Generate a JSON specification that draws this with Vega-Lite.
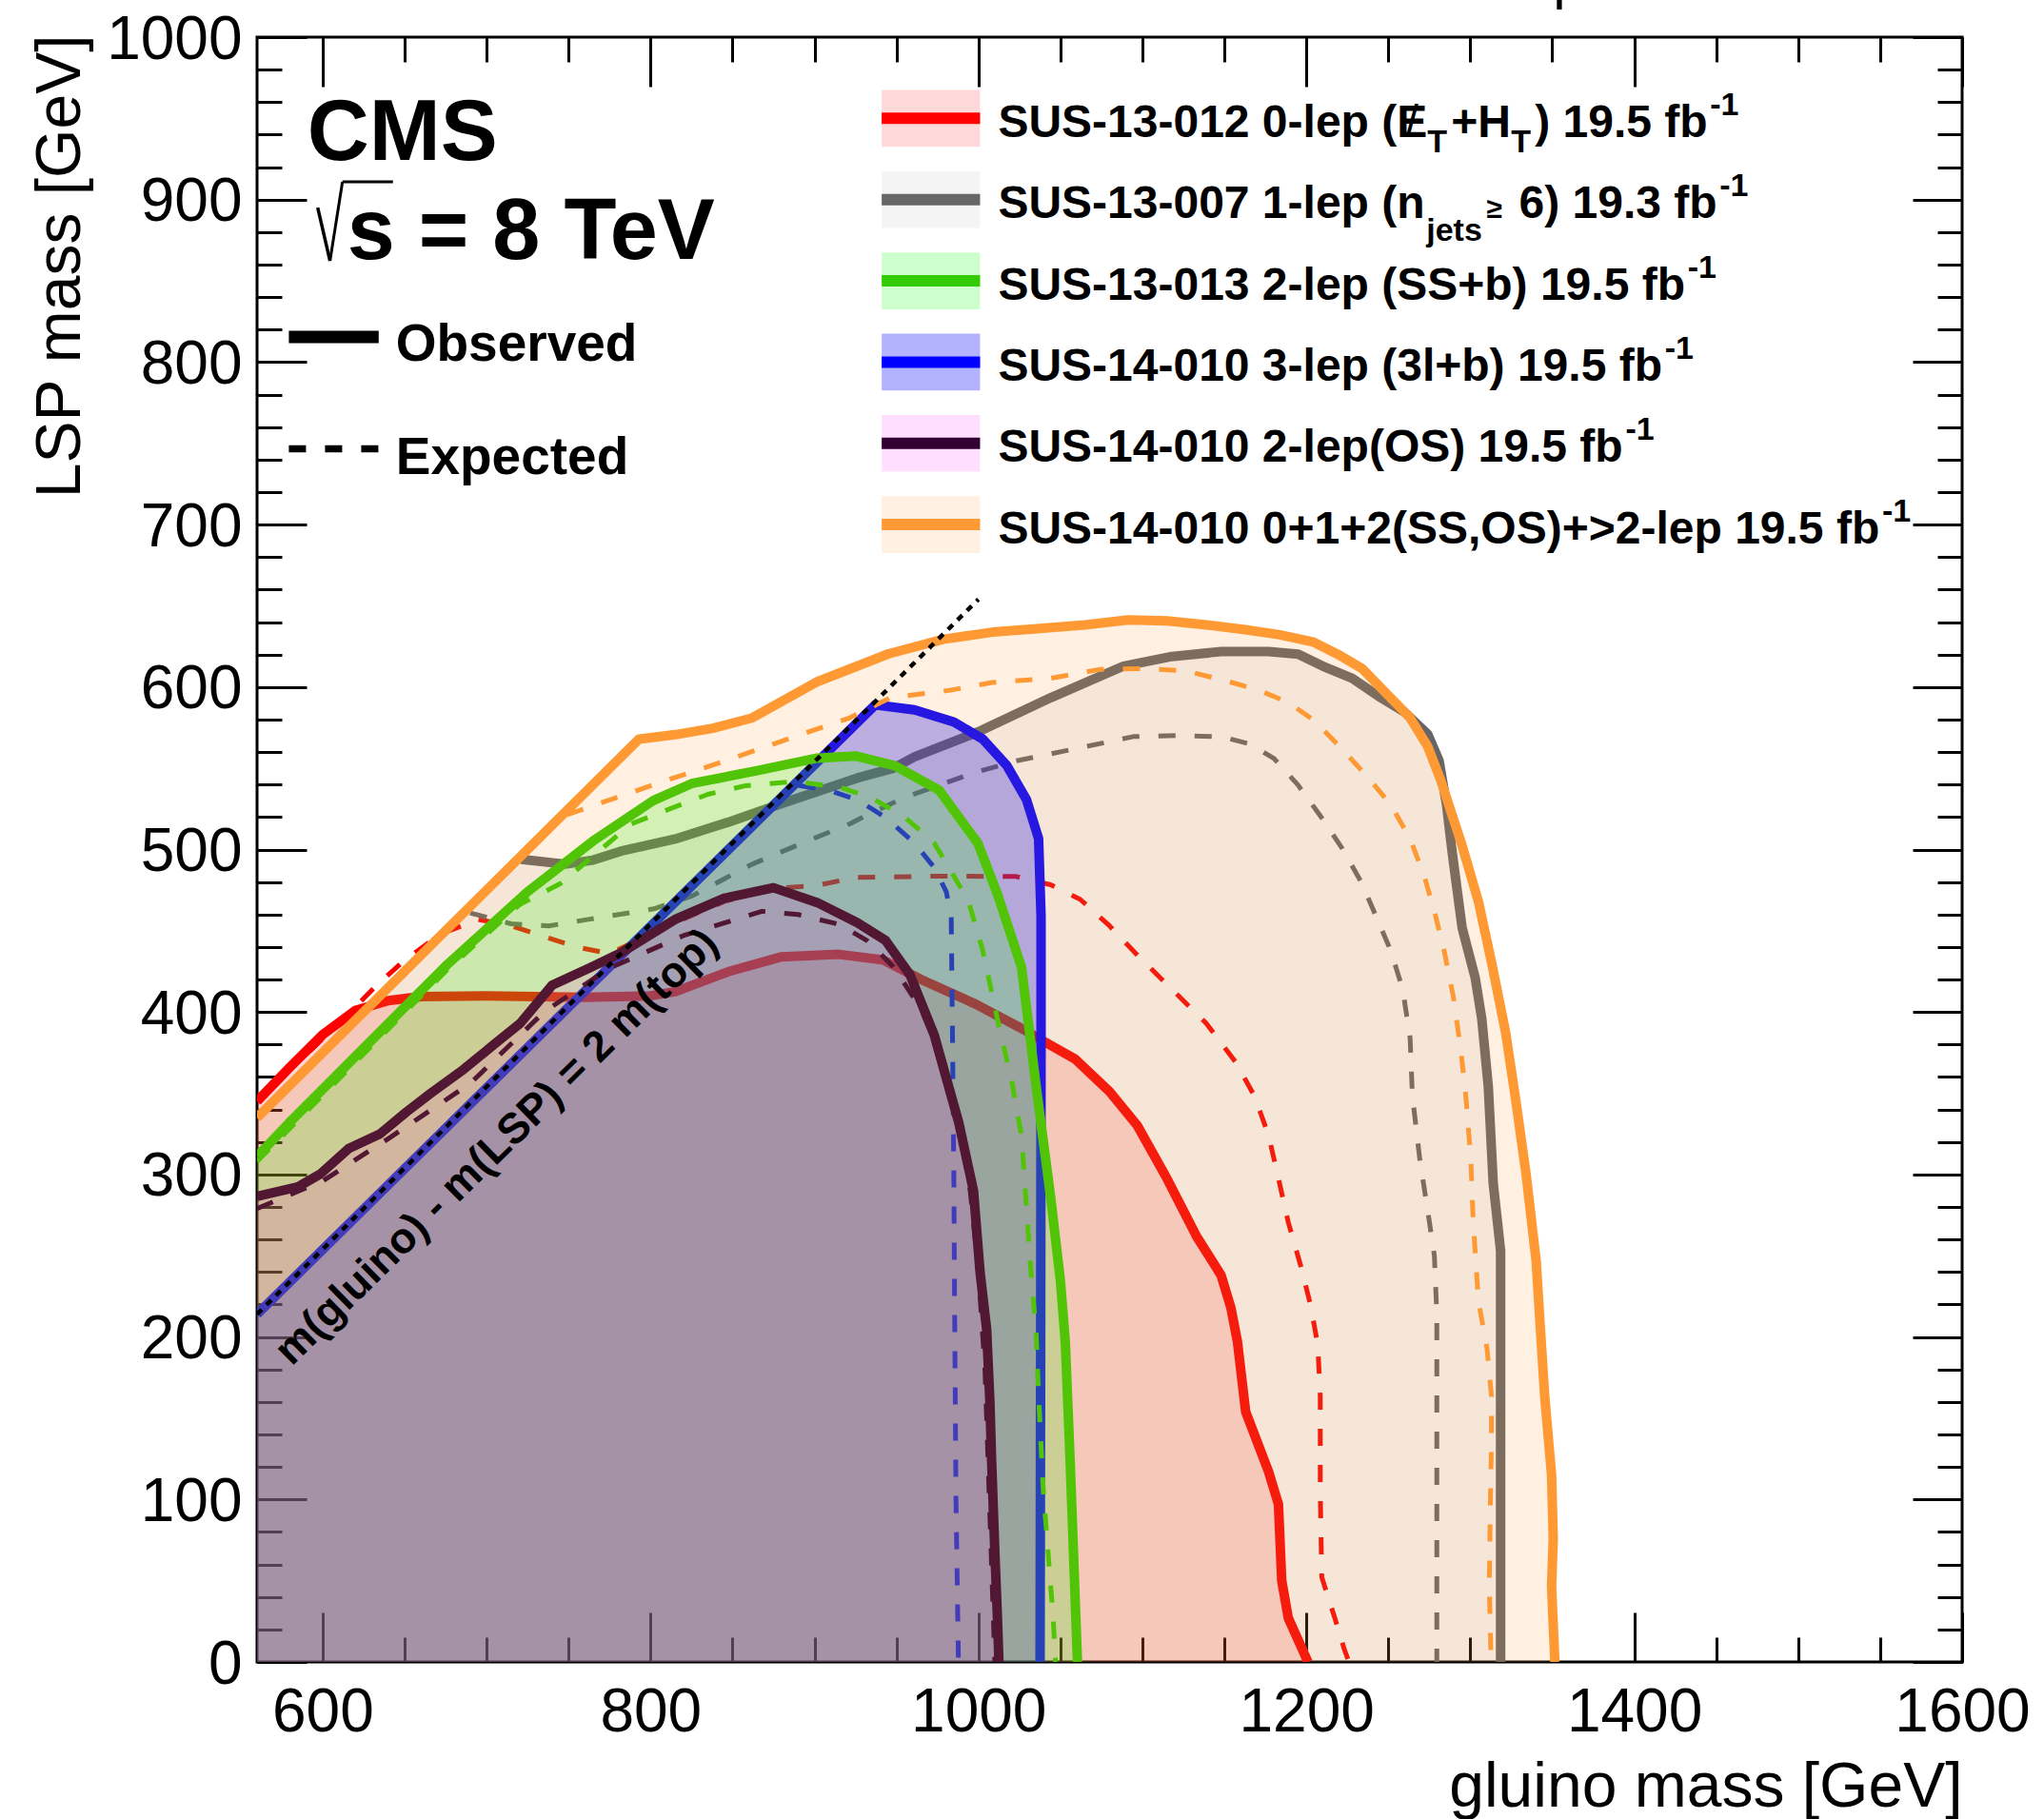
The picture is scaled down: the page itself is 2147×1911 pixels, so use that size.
{
"$schema":"https://vega.github.io/schema/vega-lite/v6.json",
"width":1791,"height":1707,
"autosize":{"type":"none"},
"padding":{"left":270,"top":39,"right":86,"bottom":165},
"background":"white",
"config":{
 "view":{"stroke":"black","strokeWidth":3},
 "axis":{"domain":false,"grid":false,"tickColor":"black","tickWidth":3,"labelColor":"black","labelFont":"Liberation Sans","labelFontSize":64,"titleFont":"Liberation Sans","titleFontSize":66,"titleFontWeight":"normal","titleColor":"black","labelOverlap":false,"labelFlush":false,"zindex":0},
 "text":{"font":"Liberation Sans","fontWeight":"bold","fontSize":48,"align":"left","baseline":"alphabetic","color":"black"},
 "line":{"strokeJoin":"round"}
},
"datasets":{"c":[
{"s":"red","k":"o","i":1,"x":560,"y":345},{"s":"red","k":"o","i":2,"x":580,"y":366},{"s":"red","k":"o","i":3,"x":600,"y":386},{"s":"red","k":"o","i":4,"x":620,"y":401},{"s":"red","k":"o","i":5,"x":640,"y":407},{"s":"red","k":"o","i":6,"x":660,"y":409.5},{"s":"red","k":"o","i":7,"x":700,"y":410},{"s":"red","k":"o","i":8,"x":760,"y":409},{"s":"red","k":"o","i":9,"x":800,"y":410},{"s":"red","k":"o","i":10,"x":815,"y":412.5},{"s":"red","k":"o","i":11,"x":848,"y":425},{"s":"red","k":"o","i":12,"x":880,"y":434},{"s":"red","k":"o","i":13,"x":915,"y":435.5},{"s":"red","k":"o","i":14,"x":942,"y":432},{"s":"red","k":"o","i":15,"x":965,"y":420},{"s":"red","k":"o","i":16,"x":998,"y":405},{"s":"red","k":"o","i":17,"x":1028,"y":389},{"s":"red","k":"o","i":18,"x":1038,"y":383},{"s":"red","k":"o","i":19,"x":1059,"y":371},{"s":"red","k":"o","i":20,"x":1080,"y":351},{"s":"red","k":"o","i":21,"x":1097,"y":330},{"s":"red","k":"o","i":22,"x":1115,"y":297.5},{"s":"red","k":"o","i":23,"x":1133,"y":262},{"s":"red","k":"o","i":24,"x":1148,"y":238},{"s":"red","k":"o","i":25,"x":1154,"y":218},{"s":"red","k":"o","i":26,"x":1158,"y":197},{"s":"red","k":"o","i":27,"x":1163,"y":154},{"s":"red","k":"o","i":28,"x":1177,"y":117},{"s":"red","k":"o","i":29,"x":1183,"y":97},{"s":"red","k":"o","i":30,"x":1185,"y":50},{"s":"red","k":"o","i":31,"x":1189,"y":27},{"s":"red","k":"o","i":32,"x":1201,"y":0},{"s":"red","k":"f","i":33,"x":560,"y":0},
{"s":"red","k":"e","i":1,"x":560,"y":345},{"s":"red","k":"e","i":2,"x":615,"y":398},{"s":"red","k":"e","i":3,"x":633,"y":416.5},{"s":"red","k":"e","i":4,"x":649,"y":431},{"s":"red","k":"e","i":5,"x":672,"y":448},{"s":"red","k":"e","i":6,"x":695,"y":457},{"s":"red","k":"e","i":7,"x":715,"y":453},{"s":"red","k":"e","i":8,"x":735,"y":446.5},{"s":"red","k":"e","i":9,"x":755,"y":440},{"s":"red","k":"e","i":10,"x":775,"y":436},{"s":"red","k":"e","i":11,"x":815,"y":455},{"s":"red","k":"e","i":12,"x":845,"y":468},{"s":"red","k":"e","i":13,"x":875,"y":476},{"s":"red","k":"e","i":14,"x":902,"y":478},{"s":"red","k":"e","i":15,"x":925,"y":482.8},{"s":"red","k":"e","i":16,"x":975,"y":483.6},{"s":"red","k":"e","i":17,"x":1023,"y":483.4},{"s":"red","k":"e","i":18,"x":1044,"y":478.3},{"s":"red","k":"e","i":19,"x":1062,"y":469.4},{"s":"red","k":"e","i":20,"x":1080,"y":453},{"s":"red","k":"e","i":21,"x":1097,"y":435},{"s":"red","k":"e","i":22,"x":1118,"y":414},{"s":"red","k":"e","i":23,"x":1139,"y":393},{"s":"red","k":"e","i":24,"x":1157,"y":369},{"s":"red","k":"e","i":25,"x":1168.5,"y":348},{"s":"red","k":"e","i":26,"x":1177,"y":324},{"s":"red","k":"e","i":27,"x":1183,"y":297.5},{"s":"red","k":"e","i":28,"x":1189,"y":270.6},{"s":"red","k":"e","i":29,"x":1196.6,"y":243.7},{"s":"red","k":"e","i":30,"x":1202.5,"y":220},{"s":"red","k":"e","i":31,"x":1207,"y":195},{"s":"red","k":"e","i":32,"x":1208.5,"y":163.6},{"s":"red","k":"e","i":33,"x":1208.5,"y":105},{"s":"red","k":"e","i":34,"x":1209.4,"y":52.3},{"s":"red","k":"e","i":35,"x":1217.4,"y":26.9},{"s":"red","k":"e","i":36,"x":1223.3,"y":7.4},{"s":"red","k":"e","i":37,"x":1226,"y":0},
{"s":"gray","k":"o","i":1,"x":721,"y":494},{"s":"gray","k":"o","i":2,"x":748,"y":491},{"s":"gray","k":"o","i":3,"x":765,"y":493.5},{"s":"gray","k":"o","i":4,"x":782,"y":499},{"s":"gray","k":"o","i":5,"x":815,"y":506.5},{"s":"gray","k":"o","i":6,"x":848,"y":517},{"s":"gray","k":"o","i":7,"x":882,"y":529},{"s":"gray","k":"o","i":8,"x":926,"y":544},{"s":"gray","k":"o","i":9,"x":948,"y":550},{"s":"gray","k":"o","i":10,"x":961,"y":557},{"s":"gray","k":"o","i":11,"x":1000,"y":572.5},{"s":"gray","k":"o","i":12,"x":1044,"y":593.4},{"s":"gray","k":"o","i":13,"x":1088.5,"y":612.9},{"s":"gray","k":"o","i":14,"x":1118,"y":618.8},{"s":"gray","k":"o","i":15,"x":1148,"y":621.8},{"s":"gray","k":"o","i":16,"x":1177,"y":621.8},{"s":"gray","k":"o","i":17,"x":1195,"y":620.3},{"s":"gray","k":"o","i":18,"x":1210,"y":612.9},{"s":"gray","k":"o","i":19,"x":1228,"y":605.4},{"s":"gray","k":"o","i":20,"x":1245.5,"y":593.4},{"s":"gray","k":"o","i":21,"x":1260,"y":584.5},{"s":"gray","k":"o","i":22,"x":1274,"y":571},{"s":"gray","k":"o","i":23,"x":1281,"y":554.6},{"s":"gray","k":"o","i":24,"x":1285.5,"y":527.7},{"s":"gray","k":"o","i":25,"x":1289,"y":498},{"s":"gray","k":"o","i":26,"x":1295,"y":452},{"s":"gray","k":"o","i":27,"x":1303,"y":421},{"s":"gray","k":"o","i":28,"x":1307,"y":396},{"s":"gray","k":"o","i":29,"x":1311,"y":354},{"s":"gray","k":"o","i":30,"x":1314,"y":294.5},{"s":"gray","k":"o","i":31,"x":1318.5,"y":253},{"s":"gray","k":"o","i":32,"x":1318.5,"y":0},{"s":"gray","k":"f","i":33,"x":560,"y":0},{"s":"gray","k":"f","i":34,"x":560,"y":336},{"s":"gray","k":"f","i":35,"x":600,"y":376},{"s":"gray","k":"f","i":36,"x":650,"y":426},{"s":"gray","k":"f","i":37,"x":700,"y":472},
{"s":"gray","k":"e","i":1,"x":690,"y":461},{"s":"gray","k":"e","i":2,"x":715,"y":454.3},{"s":"gray","k":"e","i":3,"x":738,"y":453},{"s":"gray","k":"e","i":4,"x":762,"y":457},{"s":"gray","k":"e","i":5,"x":802,"y":463.5},{"s":"gray","k":"e","i":6,"x":825,"y":471.3},{"s":"gray","k":"e","i":7,"x":862,"y":491},{"s":"gray","k":"e","i":8,"x":895,"y":505},{"s":"gray","k":"e","i":9,"x":921.6,"y":515.8},{"s":"gray","k":"e","i":10,"x":933,"y":521.7},{"s":"gray","k":"e","i":11,"x":955,"y":532},{"s":"gray","k":"e","i":12,"x":996.7,"y":547.1},{"s":"gray","k":"e","i":13,"x":1023.3,"y":554.6},{"s":"gray","k":"e","i":14,"x":1059,"y":562},{"s":"gray","k":"e","i":15,"x":1094.4,"y":569.5},{"s":"gray","k":"e","i":16,"x":1121,"y":570.1},{"s":"gray","k":"e","i":17,"x":1147.8,"y":569.5},{"s":"gray","k":"e","i":18,"x":1165.5,"y":565},{"s":"gray","k":"e","i":19,"x":1180.3,"y":556},{"s":"gray","k":"e","i":20,"x":1195,"y":539.6},{"s":"gray","k":"e","i":21,"x":1210,"y":518.7},{"s":"gray","k":"e","i":22,"x":1221.8,"y":500.8},{"s":"gray","k":"e","i":23,"x":1233.6,"y":479.8},{"s":"gray","k":"e","i":24,"x":1242.5,"y":459},{"s":"gray","k":"e","i":25,"x":1251.4,"y":438},{"s":"gray","k":"e","i":26,"x":1258.8,"y":414},{"s":"gray","k":"e","i":27,"x":1263.3,"y":384},{"s":"gray","k":"e","i":28,"x":1264.7,"y":348.3},{"s":"gray","k":"e","i":29,"x":1269.2,"y":309.5},{"s":"gray","k":"e","i":30,"x":1275.1,"y":270.6},{"s":"gray","k":"e","i":31,"x":1278.1,"y":250},{"s":"gray","k":"e","i":32,"x":1279.6,"y":214},{"s":"gray","k":"e","i":33,"x":1279.6,"y":0},
{"s":"blue","k":"o","i":1,"x":560,"y":214},{"s":"blue","k":"o","i":2,"x":937,"y":589},{"s":"blue","k":"o","i":3,"x":961,"y":586},{"s":"blue","k":"o","i":4,"x":985,"y":578.5},{"s":"blue","k":"o","i":5,"x":1002.6,"y":568},{"s":"blue","k":"o","i":6,"x":1017.4,"y":551.6},{"s":"blue","k":"o","i":7,"x":1029.3,"y":530.7},{"s":"blue","k":"o","i":8,"x":1036.7,"y":506.7},{"s":"blue","k":"o","i":9,"x":1038.2,"y":459},{"s":"blue","k":"o","i":10,"x":1038.2,"y":384},{"s":"blue","k":"o","i":11,"x":1038,"y":214},{"s":"blue","k":"o","i":12,"x":1037.6,"y":0},{"s":"blue","k":"f","i":13,"x":560,"y":0},
{"s":"blue","k":"e","i":1,"x":560,"y":214},{"s":"blue","k":"e","i":2,"x":886,"y":540},{"s":"blue","k":"e","i":3,"x":908,"y":536.7},{"s":"blue","k":"e","i":4,"x":926,"y":530.7},{"s":"blue","k":"e","i":5,"x":943,"y":520},{"s":"blue","k":"e","i":6,"x":961,"y":504},{"s":"blue","k":"e","i":7,"x":973,"y":489},{"s":"blue","k":"e","i":8,"x":980.4,"y":474},{"s":"blue","k":"e","i":9,"x":983.4,"y":459},{"s":"blue","k":"e","i":10,"x":984.2,"y":384},{"s":"blue","k":"e","i":11,"x":985,"y":300},{"s":"blue","k":"e","i":12,"x":985.5,"y":214},{"s":"blue","k":"e","i":13,"x":986.3,"y":100},{"s":"blue","k":"e","i":14,"x":987.8,"y":0},
{"s":"green","k":"o","i":1,"x":560,"y":311},{"s":"green","k":"o","i":2,"x":579.3,"y":331.5},{"s":"green","k":"o","i":3,"x":598.6,"y":351},{"s":"green","k":"o","i":4,"x":618,"y":370.6},{"s":"green","k":"o","i":5,"x":637.3,"y":390.1},{"s":"green","k":"o","i":6,"x":656.7,"y":409.7},{"s":"green","k":"o","i":7,"x":676,"y":429.2},{"s":"green","k":"o","i":8,"x":725,"y":474},{"s":"green","k":"o","i":9,"x":765,"y":505.3},{"s":"green","k":"o","i":10,"x":801.6,"y":530.1},{"s":"green","k":"o","i":11,"x":825,"y":540.6},{"s":"green","k":"o","i":12,"x":865,"y":548.5},{"s":"green","k":"o","i":13,"x":901.6,"y":556.3},{"s":"green","k":"o","i":14,"x":925,"y":557.6},{"s":"green","k":"o","i":15,"x":949,"y":551.6},{"s":"green","k":"o","i":16,"x":976,"y":536.6},{"s":"green","k":"o","i":17,"x":999.7,"y":503.8},{"s":"green","k":"o","i":18,"x":1011.6,"y":472.6},{"s":"green","k":"o","i":19,"x":1026.3,"y":427.5},{"s":"green","k":"o","i":20,"x":1035.2,"y":354.3},{"s":"green","k":"o","i":21,"x":1044.1,"y":285.6},{"s":"green","k":"o","i":22,"x":1050,"y":234.7},{"s":"green","k":"o","i":23,"x":1053,"y":197},{"s":"green","k":"o","i":24,"x":1055.9,"y":124.6},{"s":"green","k":"o","i":25,"x":1060.4,"y":0},{"s":"green","k":"f","i":26,"x":560,"y":0},
{"s":"green","k":"e","i":1,"x":560,"y":308},{"s":"green","k":"e","i":2,"x":676,"y":426},{"s":"green","k":"e","i":3,"x":720,"y":466},{"s":"green","k":"e","i":4,"x":745,"y":479},{"s":"green","k":"e","i":5,"x":765,"y":496},{"s":"green","k":"e","i":6,"x":788,"y":515.7},{"s":"green","k":"e","i":7,"x":808,"y":523.6},{"s":"green","k":"e","i":8,"x":835,"y":534},{"s":"green","k":"e","i":9,"x":858,"y":539.3},{"s":"green","k":"e","i":10,"x":888,"y":541.9},{"s":"green","k":"e","i":11,"x":915,"y":538.5},{"s":"green","k":"e","i":12,"x":934.5,"y":532},{"s":"green","k":"e","i":13,"x":955,"y":520},{"s":"green","k":"e","i":14,"x":973,"y":504},{"s":"green","k":"e","i":15,"x":982,"y":489},{"s":"green","k":"e","i":16,"x":994,"y":468},{"s":"green","k":"e","i":17,"x":1002.6,"y":438},{"s":"green","k":"e","i":18,"x":1011.5,"y":396},{"s":"green","k":"e","i":19,"x":1020.4,"y":357},{"s":"green","k":"e","i":20,"x":1026.3,"y":324},{"s":"green","k":"e","i":21,"x":1029.3,"y":280},{"s":"green","k":"e","i":22,"x":1032,"y":240},{"s":"green","k":"e","i":23,"x":1035.2,"y":202.7},{"s":"green","k":"e","i":24,"x":1036.7,"y":163.6},{"s":"green","k":"e","i":25,"x":1039.6,"y":105},{"s":"green","k":"e","i":26,"x":1042.6,"y":66},{"s":"green","k":"e","i":27,"x":1045.6,"y":27},{"s":"green","k":"e","i":28,"x":1047,"y":0},
{"s":"purple","k":"o","i":1,"x":560,"y":286.6},{"s":"purple","k":"o","i":2,"x":585,"y":292.4},{"s":"purple","k":"o","i":3,"x":598.6,"y":300.3},{"s":"purple","k":"o","i":4,"x":616,"y":316},{"s":"purple","k":"o","i":5,"x":635,"y":325},{"s":"purple","k":"o","i":6,"x":651,"y":338.4},{"s":"purple","k":"o","i":7,"x":666,"y":350},{"s":"purple","k":"o","i":8,"x":686,"y":364.7},{"s":"purple","k":"o","i":9,"x":705,"y":380.4},{"s":"purple","k":"o","i":10,"x":720.5,"y":393},{"s":"purple","k":"o","i":11,"x":740,"y":416.5},{"s":"purple","k":"o","i":12,"x":763,"y":427.2},{"s":"purple","k":"o","i":13,"x":782,"y":436.5},{"s":"purple","k":"o","i":14,"x":815,"y":457},{"s":"purple","k":"o","i":15,"x":845,"y":470},{"s":"purple","k":"o","i":16,"x":875,"y":476.5},{"s":"purple","k":"o","i":17,"x":901.6,"y":467.4},{"s":"purple","k":"o","i":18,"x":926,"y":455},{"s":"purple","k":"o","i":19,"x":943.4,"y":444},{"s":"purple","k":"o","i":20,"x":958.2,"y":423},{"s":"purple","k":"o","i":21,"x":973,"y":386},{"s":"purple","k":"o","i":22,"x":988,"y":332},{"s":"purple","k":"o","i":23,"x":997,"y":290},{"s":"purple","k":"o","i":24,"x":1001,"y":240},{"s":"purple","k":"o","i":25,"x":1005,"y":205},{"s":"purple","k":"o","i":26,"x":1007,"y":160},{"s":"purple","k":"o","i":27,"x":1008,"y":125},{"s":"purple","k":"o","i":28,"x":1010,"y":68},{"s":"purple","k":"o","i":29,"x":1011.6,"y":27},{"s":"purple","k":"o","i":30,"x":1012.5,"y":0},{"s":"purple","k":"f","i":31,"x":560,"y":0},
{"s":"purple","k":"e","i":1,"x":560,"y":279},{"s":"purple","k":"e","i":2,"x":600,"y":296},{"s":"purple","k":"e","i":3,"x":640,"y":322},{"s":"purple","k":"e","i":4,"x":690,"y":356},{"s":"purple","k":"e","i":5,"x":735,"y":400},{"s":"purple","k":"e","i":6,"x":775,"y":427},{"s":"purple","k":"e","i":7,"x":820,"y":447},{"s":"purple","k":"e","i":8,"x":868,"y":462},{"s":"purple","k":"e","i":9,"x":890,"y":460},{"s":"purple","k":"e","i":10,"x":915,"y":454},{"s":"purple","k":"e","i":11,"x":932,"y":444},{"s":"purple","k":"e","i":12,"x":948,"y":428},{"s":"purple","k":"e","i":13,"x":965,"y":402},{"s":"purple","k":"e","i":14,"x":978,"y":371},{"s":"purple","k":"e","i":15,"x":988,"y":331},{"s":"purple","k":"e","i":16,"x":995,"y":290},{"s":"purple","k":"e","i":17,"x":1000,"y":240},{"s":"purple","k":"e","i":18,"x":1004,"y":180},{"s":"purple","k":"e","i":19,"x":1006,"y":120},{"s":"purple","k":"e","i":20,"x":1008,"y":60},{"s":"purple","k":"e","i":21,"x":1010,"y":0},
{"s":"orange","k":"o","i":1,"x":560,"y":335},{"s":"orange","k":"o","i":2,"x":680,"y":455},{"s":"orange","k":"o","i":3,"x":793,"y":568},{"s":"orange","k":"o","i":4,"x":815,"y":570.7},{"s":"orange","k":"o","i":5,"x":838,"y":574.6},{"s":"orange","k":"o","i":6,"x":862,"y":581},{"s":"orange","k":"o","i":7,"x":902,"y":603.4},{"s":"orange","k":"o","i":8,"x":945,"y":620.4},{"s":"orange","k":"o","i":9,"x":978.5,"y":629.4},{"s":"orange","k":"o","i":10,"x":1008.5,"y":633.8},{"s":"orange","k":"o","i":11,"x":1032,"y":635.6},{"s":"orange","k":"o","i":12,"x":1065,"y":638.3},{"s":"orange","k":"o","i":13,"x":1091.5,"y":641.3},{"s":"orange","k":"o","i":14,"x":1115,"y":640.7},{"s":"orange","k":"o","i":15,"x":1139,"y":638.3},{"s":"orange","k":"o","i":16,"x":1162.6,"y":635.3},{"s":"orange","k":"o","i":17,"x":1183,"y":632.3},{"s":"orange","k":"o","i":18,"x":1204,"y":627.8},{"s":"orange","k":"o","i":19,"x":1219,"y":620.3},{"s":"orange","k":"o","i":20,"x":1234,"y":611.4},{"s":"orange","k":"o","i":21,"x":1248.5,"y":596.4},{"s":"orange","k":"o","i":22,"x":1263,"y":581.5},{"s":"orange","k":"o","i":23,"x":1274,"y":563.5},{"s":"orange","k":"o","i":24,"x":1282,"y":542.6},{"s":"orange","k":"o","i":25,"x":1294.6,"y":503.8},{"s":"orange","k":"o","i":26,"x":1305,"y":467.9},{"s":"orange","k":"o","i":27,"x":1313.3,"y":429},{"s":"orange","k":"o","i":28,"x":1321.6,"y":387.2},{"s":"orange","k":"o","i":29,"x":1327.8,"y":345.3},{"s":"orange","k":"o","i":30,"x":1334,"y":300.5},{"s":"orange","k":"o","i":31,"x":1340.2,"y":246.7},{"s":"orange","k":"o","i":32,"x":1342.3,"y":212.5},{"s":"orange","k":"o","i":33,"x":1345.4,"y":163.6},{"s":"orange","k":"o","i":34,"x":1349.6,"y":114.8},{"s":"orange","k":"o","i":35,"x":1350.6,"y":75.8},{"s":"orange","k":"o","i":36,"x":1349.6,"y":46.5},{"s":"orange","k":"o","i":37,"x":1351.6,"y":0},{"s":"orange","k":"f","i":38,"x":560,"y":0},
{"s":"orange","k":"e","i":1,"x":560,"y":335},{"s":"orange","k":"e","i":2,"x":745,"y":520},{"s":"orange","k":"e","i":3,"x":781.6,"y":532.8},{"s":"orange","k":"e","i":4,"x":811.6,"y":543.2},{"s":"orange","k":"e","i":5,"x":835,"y":551},{"s":"orange","k":"e","i":6,"x":861.6,"y":560.2},{"s":"orange","k":"e","i":7,"x":891.6,"y":570.7},{"s":"orange","k":"e","i":8,"x":921.6,"y":581.1},{"s":"orange","k":"e","i":9,"x":946.3,"y":593.4},{"s":"orange","k":"e","i":10,"x":981.9,"y":597.9},{"s":"orange","k":"e","i":11,"x":1008.3,"y":602.8},{"s":"orange","k":"e","i":12,"x":1044.1,"y":605.4},{"s":"orange","k":"e","i":13,"x":1073.7,"y":610.8},{"s":"orange","k":"e","i":14,"x":1100.4,"y":611.4},{"s":"orange","k":"e","i":15,"x":1127,"y":609.9},{"s":"orange","k":"e","i":16,"x":1150.7,"y":603.9},{"s":"orange","k":"e","i":17,"x":1171.4,"y":597.9},{"s":"orange","k":"e","i":18,"x":1189.2,"y":590.4},{"s":"orange","k":"e","i":19,"x":1204,"y":580},{"s":"orange","k":"e","i":20,"x":1218.8,"y":565},{"s":"orange","k":"e","i":21,"x":1236.6,"y":545.6},{"s":"orange","k":"e","i":22,"x":1251.4,"y":527.7},{"s":"orange","k":"e","i":23,"x":1263.3,"y":506.7},{"s":"orange","k":"e","i":24,"x":1272.2,"y":482.8},{"s":"orange","k":"e","i":25,"x":1278.1,"y":461.9},{"s":"orange","k":"e","i":26,"x":1284,"y":438},{"s":"orange","k":"e","i":27,"x":1289.9,"y":408.1},{"s":"orange","k":"e","i":28,"x":1294.4,"y":375.2},{"s":"orange","k":"e","i":29,"x":1297.3,"y":348.3},{"s":"orange","k":"e","i":30,"x":1300.3,"y":309.5},{"s":"orange","k":"e","i":31,"x":1301.8,"y":270.6},{"s":"orange","k":"e","i":32,"x":1305,"y":222},{"s":"orange","k":"e","i":33,"x":1310.2,"y":193},{"s":"orange","k":"e","i":34,"x":1312.9,"y":163.7},{"s":"orange","k":"e","i":35,"x":1312.9,"y":134.4},{"s":"orange","k":"e","i":36,"x":1312.2,"y":95.3},{"s":"orange","k":"e","i":37,"x":1311.6,"y":46.5},{"s":"orange","k":"e","i":38,"x":1312.7,"y":0},
{"s":"diag","k":"o","i":1,"x":560,"y":214},{"s":"diag","k":"o","i":2,"x":1000,"y":654}
]},
"resolve":{"axis":{"x":"independent","y":"independent"}},
"layer":[
{"data":{"values":[{}]},"mark":{"type":"point","opacity":0},"encoding":{
 "x":{"datum":600,"type":"quantitative","scale":{"domain":[560,1600],"nice":false,"zero":false},"axis":{"orient":"bottom","values":[600,800,1000,1200,1400,1600],"format":"d","ticks":false,"labelPadding":21,"title":"gluino mass [GeV]","titleAlign":"right","titleAnchor":"end","titleBaseline":"alphabetic","titleX":1791,"titleY":151}},
 "y":{"datum":0,"type":"quantitative","scale":{"domain":[0,1000],"nice":false,"zero":false},"axis":{"orient":"left","values":[0,100,200,300,400,500,600,700,800,900,1000],"format":"d","ticks":false,"labelPadding":16,"labelOffset":3,"title":"LSP mass [GeV]","titleAngle":270,"titleAlign":"right","titleAnchor":"end","titleBaseline":"alphabetic","titleX":-187,"titleY":-3}}}},
{"data":{"values":[{}]},"mark":{"type":"point","opacity":0},"encoding":{
 "x":{"datum":600,"type":"quantitative","axis":{"orient":"bottom","values":[600,800,1000,1200,1400,1600],"labels":false,"tickSize":-52,"title":null}},
 "y":{"datum":0,"type":"quantitative","axis":{"orient":"left","values":[0,100,200,300,400,500,600,700,800,900,1000],"labels":false,"tickSize":-52,"title":null}}}},
{"data":{"values":[{}]},"mark":{"type":"point","opacity":0},"encoding":{
 "x":{"datum":600,"type":"quantitative","axis":{"orient":"bottom","values":[600,650,700,750,800,850,900,950,1000,1050,1100,1150,1200,1250,1300,1350,1400,1450,1500,1550,1600],"labels":false,"tickSize":-26,"title":null}},
 "y":{"datum":0,"type":"quantitative","axis":{"orient":"left","values":[0,20,40,60,80,100,120,140,160,180,200,220,240,260,280,300,320,340,360,380,400,420,440,460,480,500,520,540,560,580,600,620,640,660,680,700,720,740,760,780,800,820,840,860,880,900,920,940,960,980,1000],"labels":false,"tickSize":-26,"title":null}}}},
{"data":{"values":[{}]},"mark":{"type":"point","opacity":0},"encoding":{
 "x":{"datum":600,"type":"quantitative","axis":{"orient":"top","values":[600,800,1000,1200,1400,1600],"labels":false,"tickSize":-52,"title":null}},
 "y":{"datum":0,"type":"quantitative","axis":{"orient":"right","values":[0,100,200,300,400,500,600,700,800,900,1000],"labels":false,"tickSize":-52,"title":null}}}},
{"data":{"values":[{}]},"mark":{"type":"point","opacity":0},"encoding":{
 "x":{"datum":600,"type":"quantitative","axis":{"orient":"top","values":[600,650,700,750,800,850,900,950,1000,1050,1100,1150,1200,1250,1300,1350,1400,1450,1500,1550,1600],"labels":false,"tickSize":-26,"title":null}},
 "y":{"datum":0,"type":"quantitative","axis":{"orient":"right","values":[0,20,40,60,80,100,120,140,160,180,200,220,240,260,280,300,320,340,360,380,400,420,440,460,480,500,520,540,560,580,600,620,640,660,680,700,720,740,760,780,800,820,840,860,880,900,920,940,960,980,1000],"labels":false,"tickSize":-26,"title":null}}}},

{"data":{"name":"c"},
 "encoding":{
  "x":{"field":"x","type":"quantitative","axis":null},
  "y":{"field":"y","type":"quantitative","axis":null},
  "order":{"field":"i","type":"quantitative"}
 },
 "layer":[
{"transform":[{"filter":"datum.s==='red' && datum.k!=='e'"}],"mark":{"type":"line","fill":"#ff0000","fillOpacity":0.15,"strokeOpacity":0,"clip":true}},
{"transform":[{"filter":"datum.s==='red' && datum.k==='e'"}],"mark":{"type":"line","color":"#ff0000","strokeWidth":5,"strokeDash":[18,20],"clip":true}},
{"transform":[{"filter":"datum.s==='red' && datum.k==='o'"}],"mark":{"type":"line","color":"#ff0000","strokeWidth":10,"clip":true}},
{"transform":[{"filter":"datum.s==='gray' && datum.k!=='e'"}],"mark":{"type":"line","fill":"#666666","fillOpacity":0.07,"strokeOpacity":0,"clip":true}},
{"transform":[{"filter":"datum.s==='gray' && datum.k==='e'"}],"mark":{"type":"line","color":"#666666","strokeWidth":5,"strokeDash":[18,20],"clip":true}},
{"transform":[{"filter":"datum.s==='gray' && datum.k==='o'"}],"mark":{"type":"line","color":"#666666","strokeWidth":10,"clip":true}},
{"transform":[{"filter":"datum.s==='blue' && datum.k!=='e'"}],"mark":{"type":"line","fill":"#0000ff","fillOpacity":0.3,"strokeOpacity":0,"clip":true}},
{"transform":[{"filter":"datum.s==='blue' && datum.k==='e'"}],"mark":{"type":"line","color":"#0000ff","strokeWidth":5,"strokeDash":[18,20],"clip":true}},
{"transform":[{"filter":"datum.s==='blue' && datum.k==='o'"}],"mark":{"type":"line","color":"#0000ff","strokeWidth":10,"clip":true}},
{"transform":[{"filter":"datum.s==='green' && datum.k!=='e'"}],"mark":{"type":"line","fill":"#00ff00","fillOpacity":0.2,"strokeOpacity":0,"clip":true}},
{"transform":[{"filter":"datum.s==='green' && datum.k==='e'"}],"mark":{"type":"line","color":"#33cc00","strokeWidth":5,"strokeDash":[18,20],"clip":true}},
{"transform":[{"filter":"datum.s==='green' && datum.k==='o'"}],"mark":{"type":"line","color":"#33cc00","strokeWidth":10,"clip":true}},
{"transform":[{"filter":"datum.s==='purple' && datum.k!=='e'"}],"mark":{"type":"line","fill":"#ff00ff","fillOpacity":0.13,"strokeOpacity":0,"clip":true}},
{"transform":[{"filter":"datum.s==='purple' && datum.k==='e'"}],"mark":{"type":"line","color":"#330033","strokeWidth":5,"strokeDash":[18,20],"clip":true}},
{"transform":[{"filter":"datum.s==='purple' && datum.k==='o'"}],"mark":{"type":"line","color":"#330033","strokeWidth":10,"clip":true}},
{"transform":[{"filter":"datum.s==='orange' && datum.k!=='e'"}],"mark":{"type":"line","fill":"#ff9933","fillOpacity":0.15,"strokeOpacity":0,"clip":true}},
{"transform":[{"filter":"datum.s==='orange' && datum.k==='e'"}],"mark":{"type":"line","color":"#ff9933","strokeWidth":5,"strokeDash":[18,20],"clip":true}},
{"transform":[{"filter":"datum.s==='orange' && datum.k==='o'"}],"mark":{"type":"line","color":"#ff9933","strokeWidth":10,"clip":true}},
{"transform":[{"filter":"datum.s==='diag'"}],"mark":{"type":"line","color":"black","strokeWidth":4.5,"strokeDash":[7,7],"clip":true}}
 ]},

{"data":{"values":[{}]},"mark":{"type":"text","text":"m(gluino) - m(LSP) = 2 m(top)","fontSize":45,"angle":315.5,"align":"center","baseline":"middle"},"encoding":{"x":{"datum":706,"type":"quantitative","axis":null},"y":{"datum":317,"type":"quantitative","axis":null}}},
{"data":{"values":[{}]},"mark":{"type":"text","text":"CMS","fontSize":90},"encoding":{"x":{"datum":590.7,"type":"quantitative","axis":null},"y":{"datum":924.3,"type":"quantitative","axis":null}}},
{"data":{"values":[{}]},"mark":{"type":"rule","color":"black","strokeWidth":3.5},"encoding":{"x":{"datum":597.0,"type":"quantitative","axis":null},"x2":{"datum":604.5},"y":{"datum":895.1,"type":"quantitative","axis":null},"y2":{"datum":862.3}}},
{"data":{"values":[{}]},"mark":{"type":"rule","color":"black","strokeWidth":3},"encoding":{"x":{"datum":604.5,"type":"quantitative","axis":null},"x2":{"datum":612.1},"y":{"datum":862.3,"type":"quantitative","axis":null},"y2":{"datum":911.0}}},
{"data":{"values":[{}]},"mark":{"type":"rule","color":"black","strokeWidth":3},"encoding":{"x":{"datum":612.1,"type":"quantitative","axis":null},"x2":{"datum":642.9},"y":{"datum":911.0,"type":"quantitative","axis":null}}},
{"data":{"values":[{}]},"mark":{"type":"text","text":"s = 8 TeV","fontSize":90},"encoding":{"x":{"datum":615,"type":"quantitative","axis":null},"y":{"datum":863.7,"type":"quantitative","axis":null}}},
{"data":{"values":[{}]},"mark":{"type":"rule","color":"black","strokeWidth":13},"encoding":{"x":{"datum":579.4,"type":"quantitative","axis":null},"x2":{"datum":634.2},"y":{"datum":815.5,"type":"quantitative","axis":null}}},
{"data":{"values":[{}]},"mark":{"type":"text","text":"Observed","fontSize":55},"encoding":{"x":{"datum":644.6,"type":"quantitative","axis":null},"y":{"datum":800.9,"type":"quantitative","axis":null}}},
{"data":{"values":[{}]},"mark":{"type":"rule","color":"black","strokeWidth":7.5,"strokeDash":[18,20]},"encoding":{"x":{"datum":579.4,"type":"quantitative","axis":null},"x2":{"datum":634.2},"y":{"datum":746.6,"type":"quantitative","axis":null}}},
{"data":{"values":[{}]},"mark":{"type":"text","text":"Expected","fontSize":55},"encoding":{"x":{"datum":644.6,"type":"quantitative","axis":null},"y":{"datum":731.4,"type":"quantitative","axis":null}}},
{"data":{"values":[{}]},"mark":{"type":"text","text":"p","fontSize":60,"fontWeight":"normal"},"encoding":{"x":{"datum":1350.5,"type":"quantitative","axis":null},"y":{"datum":1024,"type":"quantitative","axis":null}}},

{"data":{"values":[{}]},"mark":{"type":"rect","fill":"#ff0000","fillOpacity":0.15},"encoding":{"x":{"datum":941,"type":"quantitative","axis":null},"x2":{"datum":1001},"y":{"datum":932.5,"type":"quantitative","axis":null},"y2":{"datum":967.5}}},
{"data":{"values":[{}]},"mark":{"type":"rule","color":"#ff0000","strokeWidth":12},"encoding":{"x":{"datum":941,"type":"quantitative","axis":null},"x2":{"datum":1001},"y":{"datum":950,"type":"quantitative","axis":null}}},
{"data":{"values":[{}]},"mark":{"type":"rect","fill":"#666666","fillOpacity":0.07},"encoding":{"x":{"datum":941,"type":"quantitative","axis":null},"x2":{"datum":1001},"y":{"datum":882.5,"type":"quantitative","axis":null},"y2":{"datum":917.5}}},
{"data":{"values":[{}]},"mark":{"type":"rule","color":"#666666","strokeWidth":12},"encoding":{"x":{"datum":941,"type":"quantitative","axis":null},"x2":{"datum":1001},"y":{"datum":900,"type":"quantitative","axis":null}}},
{"data":{"values":[{}]},"mark":{"type":"rect","fill":"#00ff00","fillOpacity":0.2},"encoding":{"x":{"datum":941,"type":"quantitative","axis":null},"x2":{"datum":1001},"y":{"datum":832.5,"type":"quantitative","axis":null},"y2":{"datum":867.5}}},
{"data":{"values":[{}]},"mark":{"type":"rule","color":"#33cc00","strokeWidth":12},"encoding":{"x":{"datum":941,"type":"quantitative","axis":null},"x2":{"datum":1001},"y":{"datum":850,"type":"quantitative","axis":null}}},
{"data":{"values":[{}]},"mark":{"type":"rect","fill":"#0000ff","fillOpacity":0.3},"encoding":{"x":{"datum":941,"type":"quantitative","axis":null},"x2":{"datum":1001},"y":{"datum":782.5,"type":"quantitative","axis":null},"y2":{"datum":817.5}}},
{"data":{"values":[{}]},"mark":{"type":"rule","color":"#0000ff","strokeWidth":12},"encoding":{"x":{"datum":941,"type":"quantitative","axis":null},"x2":{"datum":1001},"y":{"datum":800,"type":"quantitative","axis":null}}},
{"data":{"values":[{}]},"mark":{"type":"rect","fill":"#ff00ff","fillOpacity":0.13},"encoding":{"x":{"datum":941,"type":"quantitative","axis":null},"x2":{"datum":1001},"y":{"datum":732.5,"type":"quantitative","axis":null},"y2":{"datum":767.5}}},
{"data":{"values":[{}]},"mark":{"type":"rule","color":"#330033","strokeWidth":12},"encoding":{"x":{"datum":941,"type":"quantitative","axis":null},"x2":{"datum":1001},"y":{"datum":750,"type":"quantitative","axis":null}}},
{"data":{"values":[{}]},"mark":{"type":"rect","fill":"#ff9933","fillOpacity":0.15},"encoding":{"x":{"datum":941,"type":"quantitative","axis":null},"x2":{"datum":1001},"y":{"datum":682.5,"type":"quantitative","axis":null},"y2":{"datum":717.5}}},
{"data":{"values":[{}]},"mark":{"type":"rule","color":"#ff9933","strokeWidth":12},"encoding":{"x":{"datum":941,"type":"quantitative","axis":null},"x2":{"datum":1001},"y":{"datum":700,"type":"quantitative","axis":null}}},

{"data":{"values":[{}]},"mark":{"type":"text","text":"SUS-13-012 0-lep (E"},"encoding":{"x":{"datum":1012,"type":"quantitative","axis":null},"y":{"datum":938.5,"type":"quantitative","axis":null}}},
{"data":{"values":[{}]},"mark":{"type":"text","text":"/","fontWeight":"normal","align":"center"},"encoding":{"x":{"datum":1264.4,"type":"quantitative","axis":null},"y":{"datum":938.5,"type":"quantitative","axis":null}}},
{"data":{"values":[{}]},"mark":{"type":"text","text":"T","fontSize":34},"encoding":{"x":{"datum":1273.8,"type":"quantitative","axis":null},"y":{"datum":929.1,"type":"quantitative","axis":null}}},
{"data":{"values":[{}]},"mark":{"type":"text","text":"+H"},"encoding":{"x":{"datum":1288.3,"type":"quantitative","axis":null},"y":{"datum":938.5,"type":"quantitative","axis":null}}},
{"data":{"values":[{}]},"mark":{"type":"text","text":"T","fontSize":34},"encoding":{"x":{"datum":1324.9,"type":"quantitative","axis":null},"y":{"datum":929.1,"type":"quantitative","axis":null}}},
{"data":{"values":[{}]},"mark":{"type":"text","text":") 19.5 fb"},"encoding":{"x":{"datum":1339.4,"type":"quantitative","axis":null},"y":{"datum":938.5,"type":"quantitative","axis":null}}},
{"data":{"values":[{}]},"mark":{"type":"text","text":"-1","fontSize":34},"encoding":{"x":{"datum":1446.2,"type":"quantitative","axis":null},"y":{"datum":952,"type":"quantitative","axis":null}}},
{"data":{"values":[{}]},"mark":{"type":"text","text":"SUS-13-007 1-lep (n"},"encoding":{"x":{"datum":1012,"type":"quantitative","axis":null},"y":{"datum":888.5,"type":"quantitative","axis":null}}},
{"data":{"values":[{}]},"mark":{"type":"text","text":"jets","fontSize":34},"encoding":{"x":{"datum":1273.2,"type":"quantitative","axis":null},"y":{"datum":874.5,"type":"quantitative","axis":null}}},
{"data":{"values":[{}]},"mark":{"type":"text","text":"≥","fontSize":30},"encoding":{"x":{"datum":1309.8,"type":"quantitative","axis":null},"y":{"datum":888.5,"type":"quantitative","axis":null}}},
{"data":{"values":[{}]},"mark":{"type":"text","text":"6) 19.3 fb"},"encoding":{"x":{"datum":1329.7,"type":"quantitative","axis":null},"y":{"datum":888.5,"type":"quantitative","axis":null}}},
{"data":{"values":[{}]},"mark":{"type":"text","text":"-1","fontSize":34},"encoding":{"x":{"datum":1452,"type":"quantitative","axis":null},"y":{"datum":902,"type":"quantitative","axis":null}}},
{"data":{"values":[{}]},"mark":{"type":"text","text":"SUS-13-013 2-lep (SS+b) 19.5 fb"},"encoding":{"x":{"datum":1012,"type":"quantitative","axis":null},"y":{"datum":838.5,"type":"quantitative","axis":null}}},
{"data":{"values":[{}]},"mark":{"type":"text","text":"-1","fontSize":34},"encoding":{"x":{"datum":1432.6,"type":"quantitative","axis":null},"y":{"datum":852,"type":"quantitative","axis":null}}},
{"data":{"values":[{}]},"mark":{"type":"text","text":"SUS-14-010 3-lep (3l+b) 19.5 fb"},"encoding":{"x":{"datum":1012,"type":"quantitative","axis":null},"y":{"datum":788.5,"type":"quantitative","axis":null}}},
{"data":{"values":[{}]},"mark":{"type":"text","text":"-1","fontSize":34},"encoding":{"x":{"datum":1418.7,"type":"quantitative","axis":null},"y":{"datum":802,"type":"quantitative","axis":null}}},
{"data":{"values":[{}]},"mark":{"type":"text","text":"SUS-14-010 2-lep(OS) 19.5 fb"},"encoding":{"x":{"datum":1012,"type":"quantitative","axis":null},"y":{"datum":738.5,"type":"quantitative","axis":null}}},
{"data":{"values":[{}]},"mark":{"type":"text","text":"-1","fontSize":34},"encoding":{"x":{"datum":1394.7,"type":"quantitative","axis":null},"y":{"datum":752,"type":"quantitative","axis":null}}},
{"data":{"values":[{}]},"mark":{"type":"text","text":"SUS-14-010 0+1+2(SS,OS)+>2-lep 19.5 fb"},"encoding":{"x":{"datum":1012,"type":"quantitative","axis":null},"y":{"datum":688.5,"type":"quantitative","axis":null}}},
{"data":{"values":[{}]},"mark":{"type":"text","text":"-1","fontSize":34},"encoding":{"x":{"datum":1551.2,"type":"quantitative","axis":null},"y":{"datum":702,"type":"quantitative","axis":null}}}
]
}
